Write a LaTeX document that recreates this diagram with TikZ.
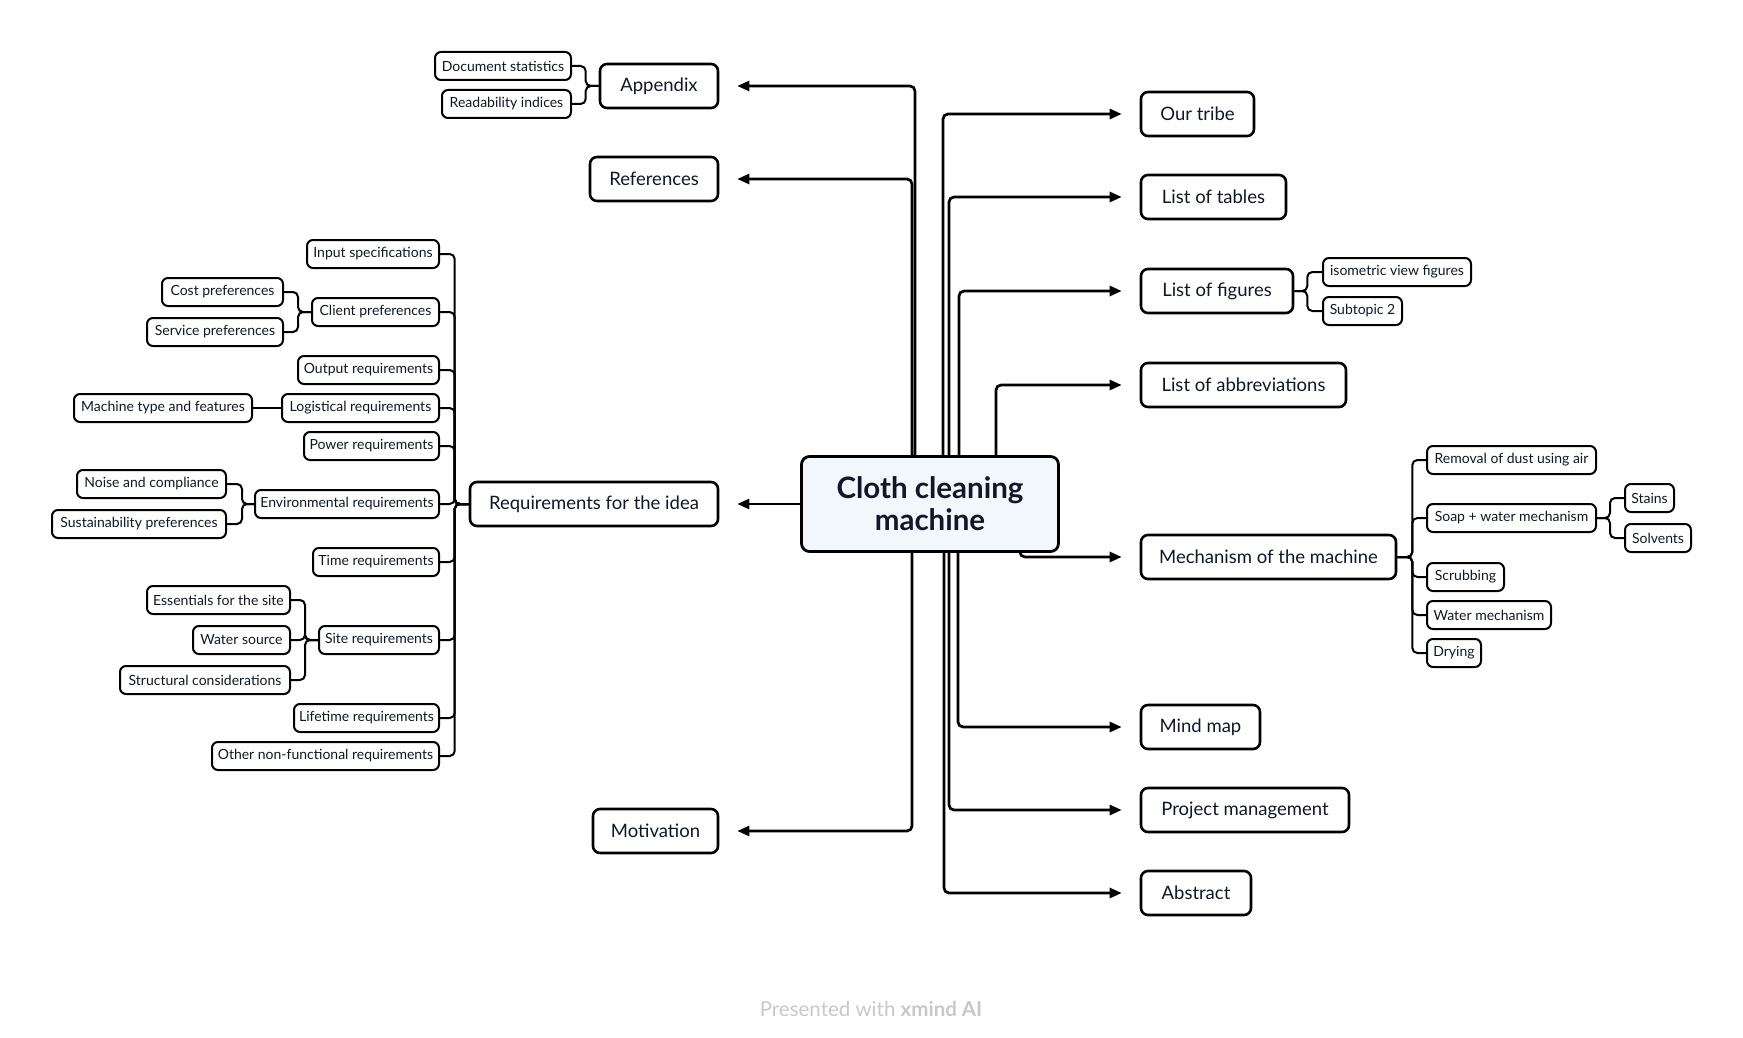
\documentclass[tikz,border=0pt]{standalone}
\usepackage{fontspec}
\setmainfont{Lato}
\usetikzlibrary{arrows.meta,backgrounds}
\definecolor{ink}{HTML}{101828}
\definecolor{hubfill}{HTML}{F2F7FC}
\definecolor{credit}{HTML}{C8C8C8}

\begin{document}
\begin{tikzpicture}[x=1pt,y=-1pt,
    hub/.style={draw,line width=2.8pt,rounded corners=8pt,fill=hubfill,text=ink,
      font=\fontsize{29.5}{32}\selectfont\bfseries,align=center,
      minimum width=257pt,minimum height=95pt,inner sep=0pt},
    topic/.style={draw,line width=2.6pt,rounded corners=7pt,fill=white,text=ink,
      font=\fontsize{18.5}{22}\selectfont,minimum height=44pt,inner sep=0pt},
    sub/.style={draw,line width=2pt,rounded corners=6pt,fill=white,text=ink,
      font=\fontsize{14}{16}\selectfont,minimum height=28pt,inner sep=0pt},
    branch/.style={line width=2.7pt,rounded corners=5pt,
      -{Triangle[length=12pt,width=10pt]},shorten >=18pt},
    twig/.style={line width=2pt,rounded corners=5pt}]
    \useasboundingbox (0,0) rectangle (1743,1038);

    \node[hub] (hub) at (930,504) {Cloth cleaning\\machine};

    \node[topic,minimum width=118pt] (appendix) at (659,86) {Appendix};
    \node[topic,minimum width=128pt] (references) at (654,179) {References};
    \node[topic,minimum width=248pt] (req) at (594,504) {Requirements for the idea};
    \node[topic,minimum width=125pt] (motivation) at (655.5,831) {Motivation};

    \node[topic,minimum width=113pt] (tribe) at (1197.5,114) {Our tribe};
    \node[topic,minimum width=145pt] (tables) at (1213.5,197) {List of tables};
    \node[topic,minimum width=152pt] (figures) at (1217,291) {List of figures};
    \node[topic,minimum width=205pt] (abbrev) at (1243.5,385) {List of abbreviations};
    \node[topic,minimum width=255pt] (mech) at (1268.5,557) {Mechanism of the machine};
    \node[topic,minimum width=119pt] (mindmap) at (1200.5,727) {Mind map};
    \node[topic,minimum width=208pt] (pm) at (1245,810) {Project management};
    \node[topic,minimum width=110pt] (abstract) at (1196,893) {Abstract};

    \node[sub,minimum width=136pt] (docstat) at (503,66) {Document statistics};
    \node[sub,minimum width=129pt] (readab) at (506.5,104) {Readability indices};

    \node[sub,minimum width=148pt] (isofig) at (1397,272) {isometric view figures};
    \node[sub,minimum width=79pt] (subtopic) at (1362.5,311) {Subtopic 2};

    \node[sub,minimum width=169pt] (dust) at (1511.5,460) {Removal of dust using air};
    \node[sub,minimum width=169pt] (soap) at (1511.5,518) {Soap + water mechanism};
    \node[sub,minimum width=77pt] (scrub) at (1465.5,577) {Scrubbing};
    \node[sub,minimum width=124pt] (watermech) at (1489,615) {Water mechanism};
    \node[sub,minimum width=54pt] (drying) at (1454,653) {Drying};
    \node[sub,minimum width=49pt] (stains) at (1649.5,498) {Stains};
    \node[sub,minimum width=66pt] (solvents) at (1658,538) {Solvents};

    \node[sub,minimum width=132pt] (input) at (373,254) {Input specifications};
    \node[sub,minimum width=127pt] (client) at (375.5,312) {Client preferences};
    \node[sub,minimum width=141pt] (output) at (368.5,370) {Output requirements};
    \node[sub,minimum width=157pt] (logistic) at (360.5,408) {Logistical requirements};
    \node[sub,minimum width=135pt] (power) at (371.5,446) {Power requirements};
    \node[sub,minimum width=184pt] (env) at (347,504) {Environmental requirements};
    \node[sub,minimum width=126pt] (time) at (376,562) {Time requirements};
    \node[sub,minimum width=120pt] (site) at (379,640) {Site requirements};
    \node[sub,minimum width=145pt] (lifetime) at (366.5,718) {Lifetime requirements};
    \node[sub,minimum width=227pt] (other) at (325.5,756) {Other non-functional requirements};

    \node[sub,minimum width=121pt] (cost) at (222.5,292) {Cost preferences};
    \node[sub,minimum width=136pt] (service) at (215,332) {Service preferences};
    \node[sub,minimum width=178pt] (machine) at (163,408) {Machine type and features};
    \node[sub,minimum width=149pt] (noise) at (151.5,484) {Noise and compliance};
    \node[sub,minimum width=174pt] (sustain) at (139,524) {Sustainability preferences};
    \node[sub,minimum width=143pt] (essentials) at (218.5,600) {Essentials for the site};
    \node[sub,minimum width=97pt] (watersrc) at (241.5,640) {Water source};
    \node[sub,minimum width=170pt] (structural) at (205,680) {Structural considerations};

    \node[text=credit,font=\fontsize{20.5}{24}\selectfont] (credit) at (871,1009)
      {Presented with \textbf{xmind AI}};

    \begin{scope}[on background layer]
    \foreach \k/\dx in {appendix/-15,references/-18,motivation/-18,
        tribe/13,tables/19,figures/29,abbrev/66,mindmap/28,pm/19,abstract/14}
      \draw[branch] ([xshift=\dx pt]hub.center) |- (\k);
    \draw[branch] (hub) -- (req);
    \draw[branch] ([xshift=-40pt,yshift=8pt]hub.south east) |- (mech);

    \foreach \k in {docstat,readab}
      \draw[twig] (appendix.west) -- ++(-13,0) |- (\k.east);
    \foreach \k in {isofig,subtopic}
      \draw[twig] (figures.east) -- ++(13,0) |- (\k.west);
    \foreach \k in {dust,soap,scrub,watermech,drying}
      \draw[twig] (mech.east) -- ++(15,0) |- (\k.west);
    \foreach \k in {stains,solvents}
      \draw[twig] (soap.east) -- ++(13,0) |- (\k.west);
    \foreach \k in {input,client,output,logistic,power,env,time,site,lifetime,other}
      \draw[twig] (req.west) -- ++(-14,0) |- (\k.east);
    \foreach \k in {cost,service}
      \draw[twig] (client.west) -- ++(-13,0) |- (\k.east);
    \draw[twig] (logistic.west) -- (machine.east);
    \foreach \k in {noise,sustain}
      \draw[twig] (env.west) -- ++(-12,0) |- (\k.east);
    \foreach \k in {essentials,watersrc,structural}
      \draw[twig] (site.west) -- ++(-13,0) |- (\k.east);
    \end{scope}
\end{tikzpicture}
\end{document}
